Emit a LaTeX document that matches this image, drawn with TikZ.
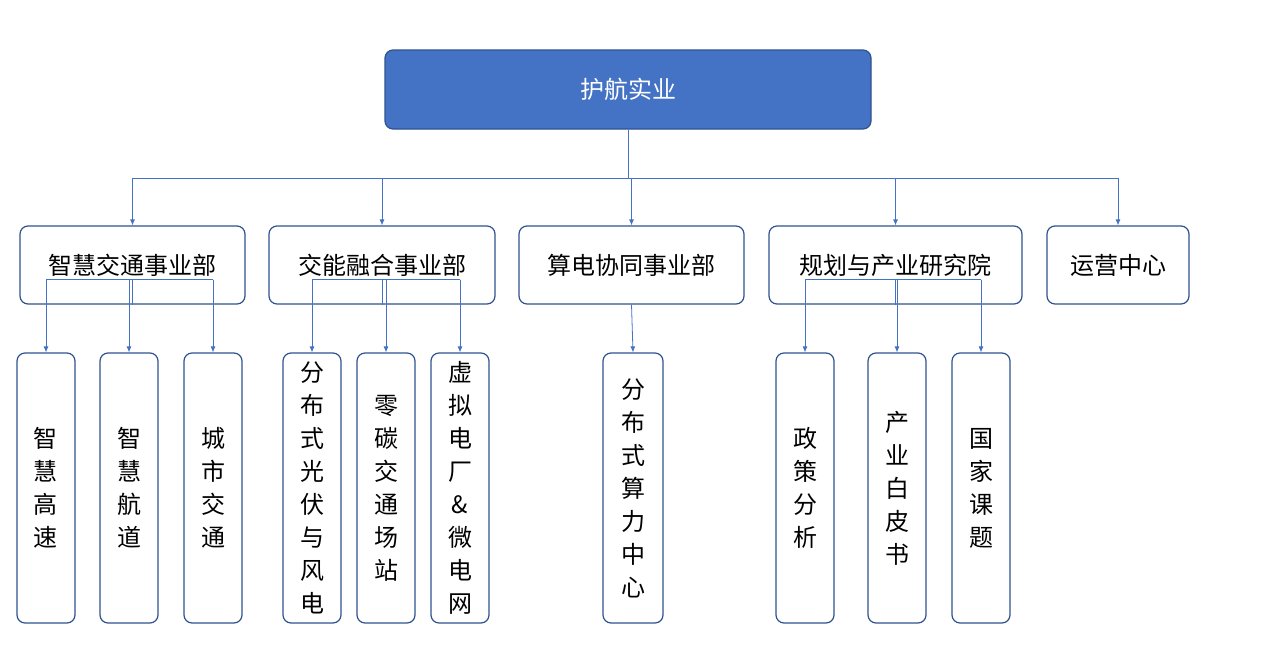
\documentclass[tikz,border=0pt]{standalone}
\usepackage{fontspec}
\newfontfamily\cjk{Noto Sans CJK SC}
\definecolor{blu}{HTML}{4472C4}
\definecolor{dk}{HTML}{2F528F}
\begin{document}
\begin{tikzpicture}[x=1pt,y=-1pt,
 box/.style={draw=dk,line width=1.2pt,rounded corners=8pt,fill=white,inner sep=0pt,font=\cjk\fontsize{24}{33}\selectfont},
 vbox/.style={box,align=center,font=\cjk\fontsize{24}{33}\selectfont},
 ln/.style={draw=blu,line width=0.8pt},
 ar/.style={ln,-{Latex[length=6pt,width=5pt]}}]
\usetikzlibrary{arrows.meta}
\useasboundingbox (0,0) rectangle (1267,653);
\node[box,fill=blu,text=white,minimum width=486,minimum height=79] (top) at (628,89.5) {护航实业};
\foreach \n/\x/\w/\t in {a/132.5/225/智慧交通事业部,b/382/226/交能融合事业部,c/631.5/225/算电协同事业部,d/895.5/253/规划与产业研究院,e/1118/142/运营中心}
 \node[box,minimum width=\w,minimum height=78] (\n) at (\x,265) {\t};
\foreach \n/\x/\t in {a1/46/智\\慧\\高\\速,a2/129/智\\慧\\航\\道,a3/213/城\\市\\交\\通,b1/312/分\\布\\式\\光\\伏\\与\\风\\电,b2/386/零\\碳\\交\\通\\场\\站,b3/460/虚\\拟\\电\\厂\\\&\\微\\电\\网,d1/805/政\\策\\分\\析,d2/897/产\\业\\白\\皮\\书,d3/981/国\\家\\课\\题}
 \node[vbox,minimum width=58,minimum height=270] (\n) at (\x,488) {\t};
\node[vbox,minimum width=60,minimum height=270] (c1) at (633,488) {分\\布\\式\\算\\力\\中\\心};
\coordinate (bus) at (628,178);
\draw[ln] (top.south) -- (bus);
\draw[ln] (a.north |- bus) -- (e.north |- bus);
\foreach \n in {a,b,c,d,e} \draw[ar] (\n.north |- bus) -- (\n.north);
\foreach \p/\l/\r in {a/a1/a3,b/b1/b3,d/d1/d3}{
 \coordinate (\p bus) at ([yshift=25]\p.south);
 \draw[ln] (\p.south) -- (\p bus);
 \draw[ln] (\l.north |- \p bus) -- (\r.north |- \p bus);
}
\foreach \p/\c in {a/a1,a/a2,a/a3,b/b1,b/b2,b/b3,d/d1,d/d2,d/d3} \draw[ar] (\c.north |- \p bus) -- (\c.north);
\draw[ar] (c.south) -- (c1.north);
\end{tikzpicture}
\end{document}
